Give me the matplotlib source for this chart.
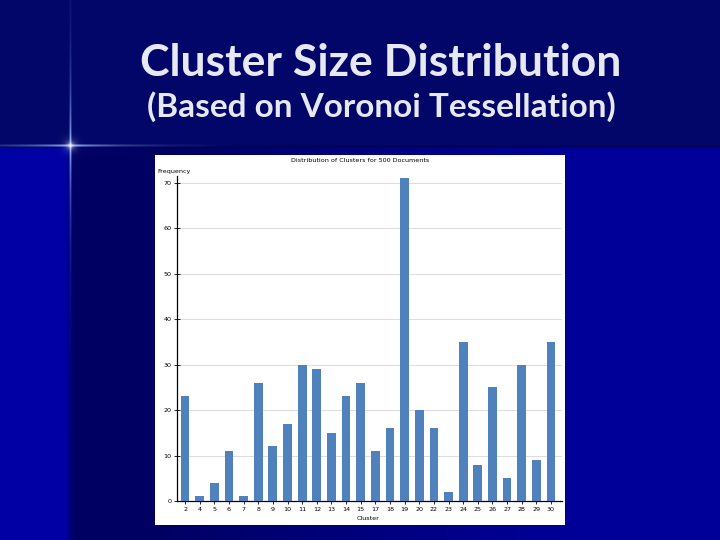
import matplotlib
matplotlib.use("Agg")
import matplotlib.pyplot as plt
import numpy as np
from matplotlib.patches import Rectangle

# data
clusters = ["2", "4", "5", "6", "7", "8", "9", "10", "11", "12", "13", "14", "15",
            "17", "18", "19", "20", "22", "23", "24", "25", "26", "27", "28", "29", "30"]
frequency = [23, 1, 4, 11, 1, 26, 12, 17, 30, 29, 15, 23, 26,
             11, 16, 71, 20, 16, 2, 35, 8, 25, 5, 30, 9, 35]
y_ticks = [0, 10, 20, 30, 40, 50, 60, 70]

title = "Cluster Size Distribution"
subtitle = "(Based on Voronoi Tessellation)"
chart_title = "Distribution of Clusters for 500 Documents"

W, H = 720, 540
fig = plt.figure(figsize=(W / 100, H / 100), dpi=100)

# --- slide background ---
img = np.zeros((H, W, 3))
top = np.array([2, 6, 104]) / 255
dark = np.array([0, 0, 98]) / 255
blue = np.array([0, 0, 152]) / 255
strip = np.array([0, 0, 165]) / 255
img[:, :] = top
xs = np.arange(W)
t = np.clip((xs - 150) / 420, 0, 1)[:, None]
lower = dark * (1 - t) + blue * t
s = np.clip((xs - 64) / 10, 0, 1)[:, None]
lower = strip * (1 - s) + lower * s
img[147:, :] = lower[None, :, :]
img[145:148, :] = img[145:148, :] * 0.8

# lens flare
flare = np.array([0.55, 0.7, 1.0])
cx, cy = 70, 145
for dy, w in [(-1, 0.5), (0, 1.0), (1, 0.5)]:
    a = np.exp(-np.abs(xs - cx) / 50.0) * w
    a[xs > 200] *= np.exp(-(xs[xs > 200] - 200) / 20.0)
    row = cy + dy
    img[row] = img[row] * (1 - a[:, None]) + flare * a[:, None]
ys = np.arange(H)
for dx, w in [(-1, 0.4), (0, 1.0), (1, 0.4)]:
    a = np.exp(-np.abs(ys - cy) / 55.0) * w
    col = cx + dx
    img[:, col] = img[:, col] * (1 - a[:, None]) + flare * a[:, None]
rr = np.hypot(xs[None, :] - cx, ys[:, None] - cy)
glow = np.exp(-rr / 3.0)[:, :, None]
img = img * (1 - glow) + glow * 1.0

bg = fig.add_axes([0, 0, 1, 1])
bg.imshow(img, extent=(0, W, H, 0), aspect="auto", interpolation="bilinear")
bg.set_xlim(0, W)
bg.set_ylim(H, 0)
bg.axis("off")
bg.add_patch(Rectangle((155, 155), 410, 370, facecolor="white", edgecolor="none"))

bg.text(381, 63, title, color="#e6e8f2", fontsize=32, fontweight="bold",
        family="Lato", ha="center", va="center")
bg.text(381, 107, subtitle, color="#e6e8f2", fontsize=24, fontweight="bold",
        family="Lato", ha="center", va="center")
bg.text(360, 160, chart_title, fontsize=4.6, ha="center", va="center", color="black")
bg.text(157, 171, "Frequency", fontsize=4.6, ha="left", va="center", color="black")
bg.text(368, 519, "Cluster", fontsize=4.6, ha="center", va="center", color="black")

# --- bar chart ---
ax = fig.add_axes([177 / W, 1 - 501 / H, (562 - 177) / W, (501 - 176) / H])
ax.set_facecolor("none")
x = np.arange(len(clusters))
ax.bar(x, frequency, width=0.6, color="#4f81bd", zorder=3)
ax.set_xlim(-0.55, len(clusters) - 0.25)
ax.set_ylim(0, 71.5)
ax.set_yticks(y_ticks)
ax.set_yticklabels([str(v) for v in y_ticks])
ax.set_xticks(x)
ax.set_xticklabels(clusters)
ax.grid(axis="y", color="#dcdcdc", linewidth=0.7, zorder=0)
for side in ["top", "right"]:
    ax.spines[side].set_visible(False)
for side in ["left", "bottom"]:
    ax.spines[side].set_linewidth(0.9)
    ax.spines[side].set_color("black")
ax.tick_params(axis="both", direction="inout", length=4, width=0.6,
               labelsize=4.6, pad=2, colors="black")

fig.savefig("out.png", dpi=100)
